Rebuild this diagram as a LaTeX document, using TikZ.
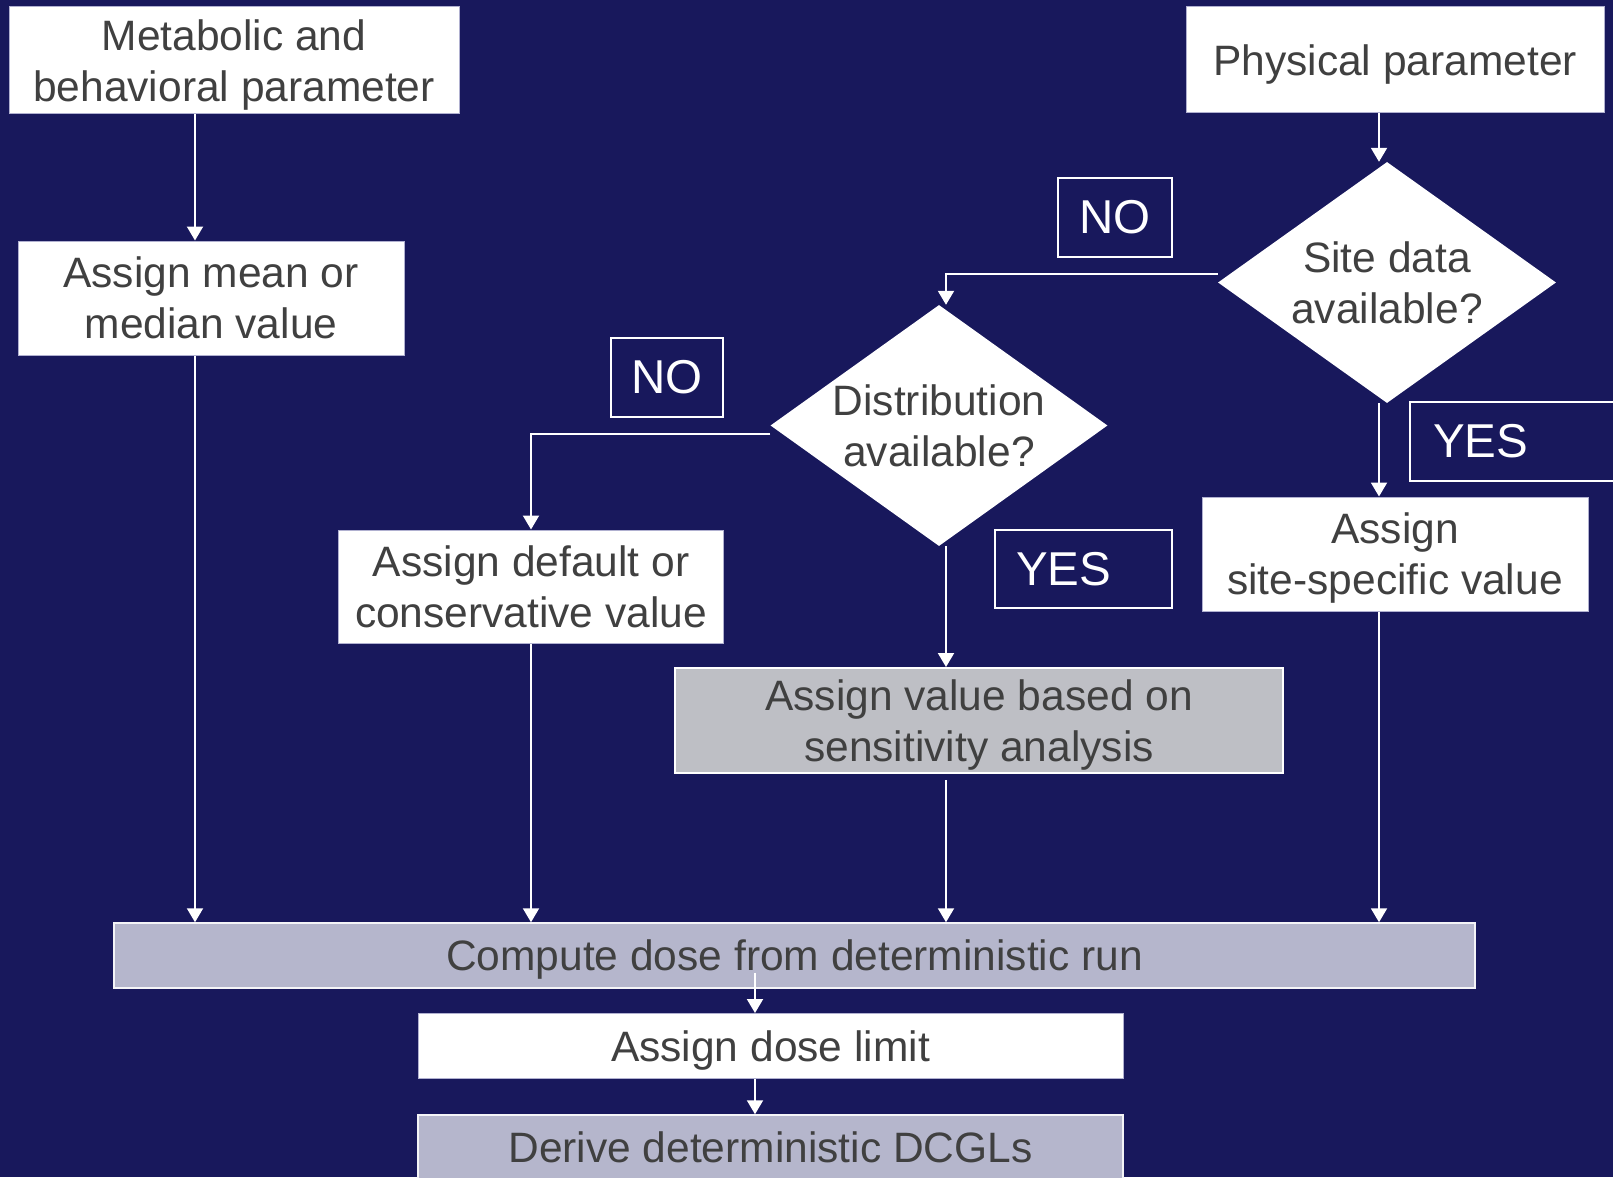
\documentclass[tikz,border=0pt]{standalone}
\usepackage{fontspec}
\setmainfont{Liberation Sans}
\usetikzlibrary{arrows.meta,shapes.geometric}

\definecolor{navy}{RGB}{24,24,92}
\definecolor{inkgray}{RGB}{64,64,64}
\definecolor{lavfill}{RGB}{181,182,204}
\definecolor{sensfill}{RGB}{190,191,197}
\definecolor{edgelav}{RGB}{176,176,208}

\tikzset{
  boxtext/.style={font=\fontsize{42.5}{51}\selectfont, text=inkgray, align=center, text depth=0pt},
  whitebox/.style={boxtext, rectangle, fill=white, draw=edgelav, line width=1pt, inner sep=0pt},
  lavbox/.style={boxtext, rectangle, fill=lavfill, draw=white!85!lavfill, line width=1.5pt, inner sep=0pt},
  sensbox/.style={boxtext, rectangle, fill=sensfill, draw=white, line width=2pt, inner sep=0pt},
  decision/.style={boxtext, diamond, fill=white, draw=none, inner sep=0pt, aspect=1.4},
  answer/.style={rectangle, fill=navy, draw=white, line width=1.6pt, text=white,
                 font=\fontsize{47.5}{52}\selectfont, inner sep=0pt},
  arr/.style={draw=white, line width=2pt, -{Triangle[length=14pt,width=16pt]}},
}

\begin{document}
\begin{tikzpicture}[x=1pt,y=-1pt]
  \useasboundingbox (0,0) rectangle (1613,1177);
  \clip (0,0) rectangle (1613,1177);
  \fill[navy] (0,0) rectangle (1613,1177);

  % column positions of the connectors
  \coordinate (c1) at (195,0);
  \coordinate (c2) at (531,0);
  \coordinate (c3) at (946,0);
  \coordinate (c4) at (1379,0);
  \coordinate (c5) at (755,0);

  % boxes
  \node[whitebox, minimum width=450pt, minimum height=107pt] (meta) at (234,60.5)
    {Metabolic and\\behavioral parameter};
  \node[whitebox, minimum width=386pt, minimum height=114pt] (mean) at (211,298)
    {Assign mean or\\median value};
  \node[whitebox, minimum width=418pt, minimum height=106pt] (phys) at (1395,60)
    {Physical parameter};
  \node[decision, minimum width=338pt, minimum height=241pt] (site) at (1387,282.5)
    {Site data\\available?};
  \node[decision, minimum width=337pt, minimum height=241pt] (dist) at (939,425.5)
    {Distribution\\available?};
  \node[whitebox, minimum width=385pt, minimum height=113pt] (dflt) at (531,586.5)
    {Assign default or\\conservative value};
  \node[sensbox, minimum width=608pt, minimum height=105pt] (sens) at (979,720.5)
    {Assign value based on\\sensitivity analysis};
  \node[whitebox, minimum width=386pt, minimum height=114pt] (spec) at (1395,554)
    {Assign\\site-specific value};
  \node[lavbox, minimum width=1361pt, minimum height=65pt] (comp) at (794.5,955.5)
    {Compute dose from deterministic run};
  \node[whitebox, minimum width=705pt, minimum height=65pt] (dose) at (770.5,1046)
    {Assign dose limit};
  \node[lavbox, minimum width=705pt, minimum height=65pt] (dcgl) at (770.5,1147.5)
    {Derive deterministic DCGLs};

  % branch labels
  \node[answer, minimum width=114pt, minimum height=79pt] (no1) at (1115,217.5) {NO};
  \node[answer, minimum width=112pt, minimum height=79pt] (no2) at (667,377.5) {NO};
  \node[answer, minimum height=78pt, text width=135pt, inner xsep=21pt, align=left]
    (yes2) at (1083.5,569) {YES};
  \node[answer, minimum height=79pt, text width=169pt, inner xsep=23pt, align=left]
    (yes1) at (1517.5,441.5) {YES};

  % connectors
  \draw[arr] (meta.south -| c1) -- (mean.north -| c1);
  \draw[arr] (mean.south -| c1) -- (comp.north -| c1);
  \draw[arr] (phys.south -| c4) -- (site.north -| c4);
  \draw[arr] ([yshift=9pt]site.west) -| (dist.north -| c3);
  \draw[arr] ([yshift=-8pt]dist.west) -| (dflt.north);
  \draw[arr] (dflt.south) -- (dflt.south |- comp.north);
  \draw[arr] (dist.south -| c3) -- (sens.north -| c3);
  \draw[arr] ([yshift=-6pt]sens.south -| c3) -- (comp.north -| c3);
  \draw[arr] (site.south -| c4) -- (spec.north -| c4);
  \draw[arr] (spec.south -| c4) -- (comp.north -| c4);
  \draw[arr] ([yshift=16pt]comp.south -| c5) -- (dose.north -| c5);
  \draw[arr] (dose.south -| c5) -- (dcgl.north -| c5);
\end{tikzpicture}
\end{document}
